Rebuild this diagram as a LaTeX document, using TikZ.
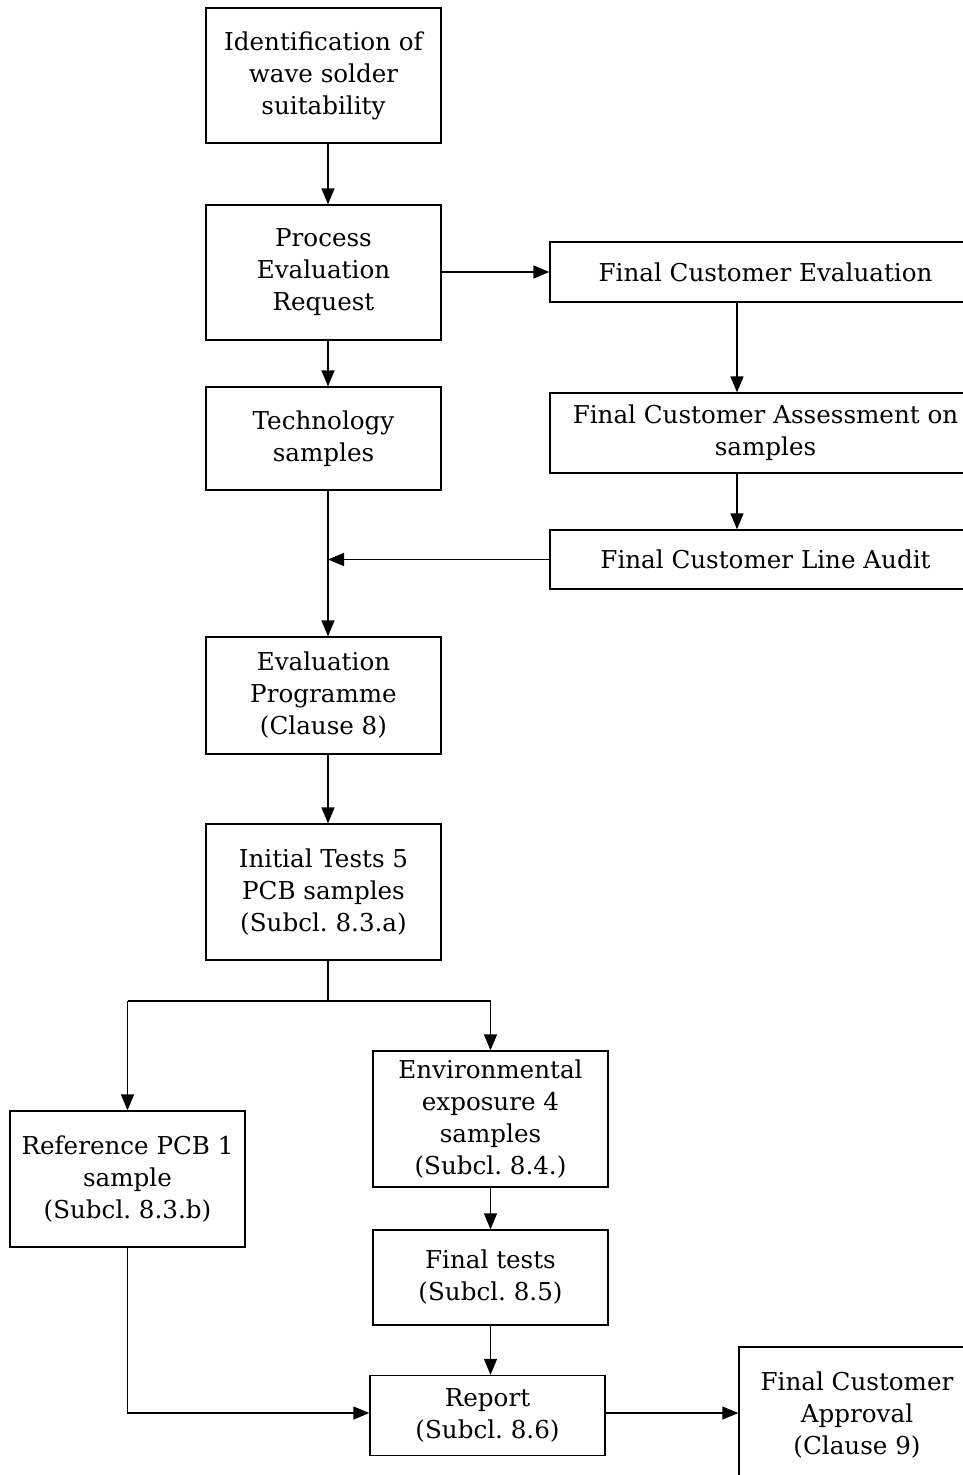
\documentclass[tikz,border=0pt]{standalone}
\usepackage{fontspec}
\setmainfont{DejaVu Serif}
\usetikzlibrary{arrows.meta}
\begin{document}
\frenchspacing
\begin{tikzpicture}[x=1pt,y=-1pt,
  box/.style={draw, line width=1.3pt, align=center, inner sep=0pt, font=\fontsize{24.6}{32}\selectfont},
  ln/.style={line width=1.3pt},
  arr/.style={line width=1.3pt, -{Triangle[length=16pt,width=13pt]}}]
\useasboundingbox (0,0) rectangle (963,1475);
% main column
\node[box, minimum width=235, minimum height=135] (n1) at (323.5,75.5) {Identification of\\wave solder\\suitability};
\node[box, minimum width=235, minimum height=135] (n2) at (323.5,272.5) {Process\\Evaluation\\Request};
\node[box, minimum width=235, minimum height=103] (n3) at (323.5,438.5) {Technology\\samples};
\node[box, minimum width=235, minimum height=117] (n7) at (323.5,695.5) {Evaluation\\Programme\\(Clause 8)};
\node[box, minimum width=235, minimum height=136] (n8) at (323.5,892) {Initial Tests 5\\PCB samples\\(Subcl. 8.3.a)};
% right column
\node[box, minimum width=431, minimum height=60] (n4) at (765.5,272) {Final Customer Evaluation};
\node[box, minimum width=431, minimum height=80] (n5) at (765.5,433) {Final Customer Assessment on\\samples};
\node[box, minimum width=431, minimum height=59] (n6) at (765.5,559.5) {Final Customer Line Audit};
% lower part
\node[box, minimum width=235, minimum height=136] (n9) at (127.5,1179) {Reference PCB 1\\sample\\(Subcl. 8.3.b)};
\node[box, minimum width=235, minimum height=136] (n10) at (490.5,1119) {Environmental\\exposure 4\\samples\\(Subcl. 8.4.)};
\node[box, minimum width=235, minimum height=95] (n11) at (490.5,1277.5) {Final tests\\(Subcl. 8.5)};
\node[box, minimum width=235, minimum height=80] (n12) at (487.5,1415.5) {Report\\(Subcl. 8.6)};
\node[box, minimum width=236, minimum height=136] (n13) at (857,1415) {Final Customer\\Approval\\(Clause 9)};
% coordinates
\coordinate (j1) at (328,559.5);
\coordinate (s0) at (328,1001);
\coordinate (sl) at (127.5,1001);
\coordinate (sr) at (490.5,1001);
\coordinate (c1) at (127.5,1413);
% connectors
\draw[arr] ([xshift=4.5pt]n1.south) -- ([xshift=4.5pt]n2.north);
\draw[arr] ([xshift=4.5pt]n2.south) -- ([xshift=4.5pt]n3.north);
\draw[arr] (n2.east |- n4.west) -- (n4.west);
\draw[arr] ([xshift=-28.5pt]n4.south) -- ([xshift=-28.5pt]n5.north);
\draw[arr] ([xshift=-28.5pt]n5.south) -- ([xshift=-28.5pt]n6.north);
\draw[arr] ([xshift=4.5pt]n3.south) -- ([xshift=4.5pt]n7.north);
\draw[arr] (n6.west) -- (j1);
\draw[arr] ([xshift=4.5pt]n7.south) -- ([xshift=4.5pt]n8.north);
\draw[ln] ([xshift=4.5pt]n8.south) -- (s0);
\draw[ln] (sl) -- (sr);
\draw[arr] (sl) -- (n9.north);
\draw[arr] (sr) -- (n10.north);
\draw[arr] (n10.south) -- (n11.north);
\draw[arr] (n11.south) -- (n11.south |- n12.north);
\draw[arr] (n9.south) -- (c1) -- (c1 -| n12.west);
\draw[arr] (n12.east |- c1) -- (c1 -| n13.west);
\end{tikzpicture}
\end{document}
